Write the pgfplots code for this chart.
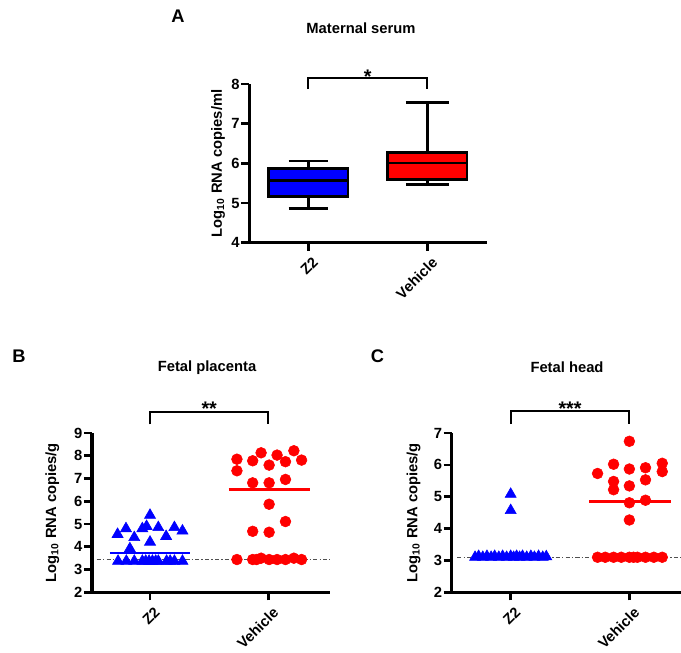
\documentclass[border=0pt]{standalone}
\usepackage{fontspec}
\setmainfont{Liberation Sans}
\usepackage{pgfplots}
\pgfplotsset{compat=1.18}

\definecolor{zblue}{RGB}{0,0,255}
\definecolor{vred}{RGB}{255,0,0}
\definecolor{lodgray}{RGB}{80,80,80}

\newcommand\px{0.25mm}
\newcommand\lbl{\bfseries\fontsize{10.5}{12}\selectfont}

\pgfplotsset{
  panel/.style={
    scale only axis, clip=false,
    axis x line*=bottom, axis y line*=left,
    axis line style={line width=2.5pt, black},
    tick align=outside, major tick length=2mm,
    tick style={line width=1.9pt, black},
    xtick={0,1}, xticklabels={Z2,Vehicle},
    x tick label style={rotate=45, anchor=north east, inner sep=1pt, yshift=-1.2mm, font=\lbl},
    y tick label style={inner sep=1pt, font=\lbl},
    /pgf/number format/assume math mode=true,
    ylabel style={font=\lbl},
    minor tick num=0,
  },
  lod/.style={lodgray, line width=0.9pt, dash pattern=on 3pt off 1.5pt on 1pt off 1.5pt},
  tri/.style={only marks, mark=triangle*, mark size=1.6mm, color=zblue},
  dot/.style={only marks, mark=*, mark size=1.35mm, color=vred},
  boxline/.style={black, line width=1.9pt},
}
\tikzset{bracket/.style={line width=1.5pt, black}}

\begin{document}
\begin{tikzpicture}

% A: maternal serum (box: quartiles 5.17/5.87, median 5.57, whiskers 4.87-6.06 | 5.60/6.27, 6.01, 5.47-7.54)
\begin{axis}[panel, at={(249.3*\px,-242.7*\px)}, anchor=south west,
  width=237.4*\px, height=158.7*\px,
  xmin=-0.494, xmax=1.497, ymin=4, ymax=8, ytick={4,5,6,7,8},
  ylabel={Log\textsubscript{10} RNA copies/ml}]
\addplot[boxline] coordinates {(-0.165,4.87) (0.165,4.87) (0,4.87) (0,5.17)};
\addplot[boxline] coordinates {(-0.165,6.06) (0.165,6.06) (0,6.06) (0,5.87)};
\addplot[boxline, fill=zblue] coordinates {(-0.333,5.17) (0.333,5.17) (0.333,5.87) (-0.333,5.87)} -- cycle;
\addplot[boxline] coordinates {(-0.333,5.57) (0.333,5.57)};
\addplot[boxline] coordinates {(0.82,5.47) (1.18,5.47) (1,5.47) (1,5.60)};
\addplot[boxline] coordinates {(0.82,7.54) (1.18,7.54) (1,7.54) (1,6.27)};
\addplot[boxline, fill=vred] coordinates {(0.667,5.60) (1.333,5.60) (1.333,6.27) (0.667,6.27)} -- cycle;
\addplot[boxline] coordinates {(0.667,6.01) (1.333,6.01)};
\draw[bracket] (axis cs:0,7.87) -- (axis cs:0,8.15) -- (axis cs:1,8.15) -- (axis cs:1,7.87);
\node[anchor=base, inner sep=0pt, font=\bfseries\fontsize{14}{14}\selectfont] at (axis cs:0.5,8.02) {*};
\end{axis}

% B: fetal placenta
\begin{axis}[panel, at={(92*\px,-592.3*\px)}, anchor=south west,
  width=238*\px, height=159.3*\px,
  xmin=-0.49, xmax=1.52, ymin=2, ymax=9, ytick={2,3,4,5,6,7,8,9},
  ylabel shift=6pt,
  ylabel={Log\textsubscript{10} RNA copies/g}]
\addplot[lod] coordinates {(-0.45,3.43) (1.52,3.43)};
\addplot[tri] coordinates {
  (0.000,5.39) (-0.203,4.80) (-0.274,4.55) (-0.065,4.80) (-0.029,4.90)
  (0.070,4.85) (0.206,4.85) (0.274,4.70) (-0.133,4.41) (0.136,4.46)
  (0.000,4.21) (-0.170,3.92)
  (-0.270,3.37) (-0.200,3.37) (-0.133,3.37) (-0.065,3.37) (-0.036,3.37)
  (-0.008,3.37) (0.020,3.37) (0.048,3.37) (0.070,3.37) (0.140,3.37)
  (0.170,3.37) (0.206,3.37) (0.274,3.37)};
\addplot[zblue, line width=1.9pt] coordinates {(-0.34,3.73) (0.34,3.73)};
\addplot[dot] coordinates {
  (0.734,7.85) (0.734,7.34) (0.867,7.78) (0.938,8.13) (1.006,7.59)
  (1.073,8.03) (1.144,7.74) (1.215,8.22) (1.280,7.81)
  (0.867,6.81) (1.006,6.81) (1.144,6.96) (1.006,5.87) (1.144,5.11)
  (0.867,4.68) (1.006,4.64)
  (0.734,3.44) (0.867,3.44) (0.900,3.44) (0.938,3.50) (1.006,3.44)
  (1.073,3.44) (1.144,3.44) (1.215,3.50) (1.280,3.44)};
\addplot[vred, line width=1.9pt] coordinates {(0.664,6.53) (1.350,6.53)};
\draw[bracket] (axis cs:0,9.38) -- (axis cs:0,9.94) -- (axis cs:1,9.94) -- (axis cs:1,9.38);
\node[anchor=base, inner sep=0pt, font=\bfseries\fontsize{14}{14}\selectfont] at (axis cs:0.5,9.75) {**};
\end{axis}

% C: fetal head
\begin{axis}[panel, at={(451.7*\px,-592.3*\px)}, anchor=south west,
  width=229.3*\px, height=159.3*\px,
  xmin=-0.497, xmax=1.435, ymin=2, ymax=7, ytick={2,3,4,5,6,7},
  ylabel shift=5pt,
  ylabel={Log\textsubscript{10} RNA copies/g}]
\addplot[lod] coordinates {(-0.45,3.09) (1.435,3.09)};
\addplot[tri] coordinates {
  (0.000,5.08) (0.000,4.57)
  (-0.300,3.10) (-0.270,3.13) (-0.235,3.10) (-0.200,3.13) (-0.165,3.10)
  (-0.135,3.13) (-0.100,3.10) (-0.068,3.13) (-0.034,3.10) (0.000,3.13)
  (0.025,3.10) (0.050,3.13) (0.075,3.10) (0.100,3.13) (0.135,3.10)
  (0.170,3.13) (0.200,3.10) (0.235,3.13) (0.270,3.10) (0.300,3.12)};
\addplot[dot] coordinates {
  (1.000,6.74) (0.732,5.73) (0.867,6.02) (1.000,5.87) (1.136,5.91)
  (1.277,6.05) (1.277,5.79) (0.867,5.48) (0.867,5.22) (1.000,5.34)
  (1.136,5.53) (1.000,4.81) (1.136,4.89) (1.000,4.27)
  (0.732,3.10) (0.797,3.10) (0.867,3.10) (0.932,3.10) (1.000,3.10)
  (1.035,3.10) (1.068,3.10) (1.136,3.10) (1.206,3.10) (1.277,3.10)};
\addplot[vred, line width=1.9pt] coordinates {(0.660,4.85) (1.353,4.85)};
\draw[bracket] (axis cs:0,7.28) -- (axis cs:0,7.68) -- (axis cs:1,7.68) -- (axis cs:1,7.28);
\node[anchor=base, inner sep=0pt, font=\bfseries\fontsize{14}{14}\selectfont] at (axis cs:0.5,7.55) {***};
\end{axis}

% panel titles and letters
\node[font=\lbl] at (361*\px,-28*\px) {Maternal serum};
\node[font=\lbl] at (207*\px,-368*\px) {Fetal placenta};
\node[font=\lbl] at (567*\px,-367.5*\px) {Fetal head};
\node[font=\bfseries\fontsize{13}{14}\selectfont] at (178*\px,-16*\px) {A};
\node[font=\bfseries\fontsize{13}{14}\selectfont] at (19*\px,-356*\px) {B};
\node[font=\bfseries\fontsize{13}{14}\selectfont] at (377.5*\px,-356*\px) {C};

\pgfresetboundingbox
\useasboundingbox (0,0) rectangle (681*\px,-652*\px);
\end{tikzpicture}
\end{document}
